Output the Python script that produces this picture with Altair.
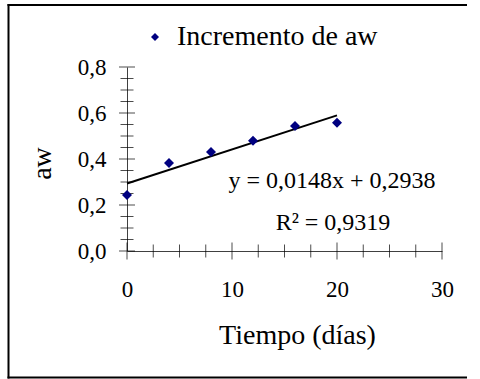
import altair as alt
import pandas as pd

# Measured water activity over storage time
dias = [0, 4, 8, 12, 16, 20]
aw = [0.243, 0.383, 0.430, 0.479, 0.543, 0.558]
serie = "Incremento de aw"

# Linear fit reported on the chart
pendiente = 0.0148
intercepto = 0.2938
ajuste_x = [0, 20]

# Axis ticks and labels
x_labels = [0, 10, 20, 30]
x_major = [0, 10, 20, 30]
x_minor = [2.5, 5, 7.5, 12.5, 15, 17.5, 22.5, 25, 27.5]
y_labels = [0.0, 0.2, 0.4, 0.6, 0.8]
y_major = [0.0, 0.2, 0.4, 0.6, 0.8]
y_minor = [0.05, 0.1, 0.15, 0.25, 0.3, 0.35, 0.45, 0.5, 0.55, 0.65, 0.7, 0.75]

FONT = "Liberation Serif"

puntos = pd.DataFrame({"dias": dias, "aw": aw, "serie": [serie] * len(dias)})
recta = pd.DataFrame({"dias": ajuste_x})

xs = alt.Scale(domain=[0, 30], nice=False, zero=False)
ys = alt.Scale(domain=[0, 0.8], nice=False, zero=False)

x_axis = alt.Axis(
    values=x_labels, format="d", grid=False, ticks=False, tickSize=0,
    labelFlush=False, labelOverlap=False,
    domainColor="#404040", domainWidth=1, labelPadding=27,
    labelFont=FONT, labelFontSize=23, labelColor="black",
    title="Tiempo (días)", titleFont=FONT, titleFontSize=28,
    titleFontWeight="normal", titleColor="black",
    titleX=170, titleY=92, titleBaseline="alphabetic", titleAlign="center",
)
y_axis = alt.Axis(
    values=y_labels, grid=False, ticks=False, tickSize=0,
    labelFlush=False, labelOverlap=False,
    labelExpr="replace(format(datum.value, '.1f'), '.', ',')",
    domainColor="#404040", domainWidth=1, labelPadding=21,
    labelFont=FONT, labelFontSize=23, labelColor="black",
    title="aw", titleFont=FONT, titleFontSize=28,
    titleFontWeight="normal", titleColor="black",
    titleX=-77, titleY=96, titleAngle=-90, titleBaseline="alphabetic",
    titleAlign="center",
)

scatter = alt.Chart(puntos).mark_point(
    shape="diamond", filled=True, size=100, opacity=1
).encode(
    x=alt.X("dias:Q", scale=xs, axis=x_axis),
    y=alt.Y("aw:Q", scale=ys, axis=y_axis),
    color=alt.Color(
        "serie:N",
        scale=alt.Scale(range=["#000080"]),
        legend=alt.Legend(
            title=None, orient="none", legendX=14, legendY=-44,
            symbolType="diamond", symbolSize=64, symbolStrokeWidth=0,
            labelFont=FONT, labelFontSize=28, labelColor="black",
            labelOffset=8, labelLimit=400, padding=0,
        ),
    ),
)

trend = alt.Chart(recta).transform_calculate(
    aw=f"{pendiente} * datum.dias + {intercepto}"
).mark_line(color="black", strokeWidth=2).encode(
    x=alt.X("dias:Q", scale=xs),
    y=alt.Y("aw:Q", scale=ys),
)

def tick_layer(values, axis, size):
    df = pd.DataFrame({"v": values, "zero": [0] * len(values)})
    if axis == "x":
        return alt.Chart(df).mark_tick(
            orient="vertical", size=size, thickness=1, color="black"
        ).encode(x=alt.X("v:Q", scale=xs), y=alt.Y("zero:Q", scale=ys))
    return alt.Chart(df).mark_tick(
        orient="horizontal", size=size, thickness=1, color="black"
    ).encode(x=alt.X("zero:Q", scale=xs), y=alt.Y("v:Q", scale=ys))

ticks = [
    tick_layer(x_major, "x", 17),
    tick_layer(x_minor, "x", 13),
    tick_layer(y_major, "y", 16),
    tick_layer(y_minor, "y", 13),
]

eq = pd.DataFrame({"linea": [
    f"y = {str(pendiente).replace('.', ',')}x + {str(intercepto).replace('.', ',')}",
    "R² = 0,9319",
]})
ecuacion = alt.Chart(eq.iloc[[0]]).mark_text(
    font=FONT, fontSize=24, color="black", align="center", baseline="alphabetic"
).encode(text="linea:N", x=alt.value(205), y=alt.value(121))
r2 = alt.Chart(eq.iloc[[1]]).mark_text(
    font=FONT, fontSize=24, color="black", align="center", baseline="alphabetic"
).encode(text="linea:N", x=alt.value(206), y=alt.value(163))

# Outer frame: left, top and bottom edges of the figure border
borde = pd.DataFrame({"k": [0]})
marco_sup = alt.Chart(borde).mark_rule(color="black", strokeWidth=2).encode(
    x=alt.value(-119.5), x2=alt.value(340), y=alt.value(-62), y2=alt.value(-62)
)
marco_izq = alt.Chart(borde).mark_rule(color="black", strokeWidth=2).encode(
    x=alt.value(-118.5), x2=alt.value(-118.5), y=alt.value(-63), y2=alt.value(311.5)
)
marco_inf = alt.Chart(borde).mark_rule(color="black", strokeWidth=2).encode(
    x=alt.value(-119.5), x2=alt.value(340), y=alt.value(310.5), y2=alt.value(310.5)
)

chart = alt.layer(
    marco_sup, marco_izq, marco_inf, trend, *ticks, scatter, ecuacion, r2
).properties(
    width=315, height=184,
    autosize=alt.AutoSizeParams(type="none"),
    padding={"left": 127, "top": 67, "right": 38, "bottom": 128},
    background="white",
).configure_view(stroke=None)

chart.save("out.html", embed_options={"renderer": "svg", "actions": False})
